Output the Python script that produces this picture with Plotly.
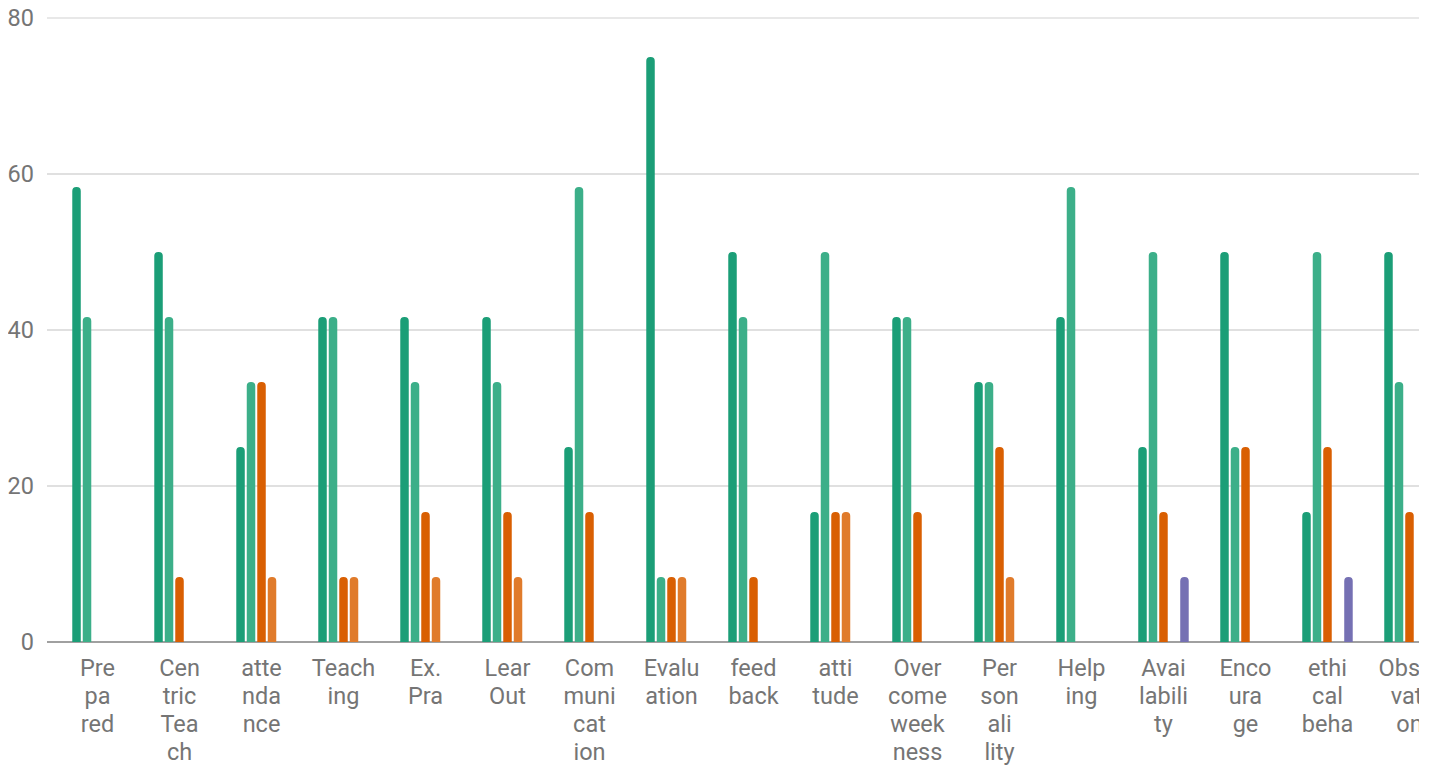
import plotly.graph_objects as go

categories = ["Prepared", "Centric Teach", "attendance", "Teaching", "Ex. Pra", "Lear Out",
              "Communication", "Evaluation", "feedback", "attitude", "Overcome weekness",
              "Personality", "Helping", "Availability", "Encourage", "ethical beha", "Observation"]
tick_lines = [["Pre", "pa", "red"], ["Cen", "tric", "Tea", "ch"], ["atte", "nda", "nce"], ["Teach", "ing"],
              ["Ex.", "Pra"], ["Lear", "Out"], ["Com", "muni", "cat", "ion"], ["Evalu", "ation"],
              ["feed", "back"], ["atti", "tude"], ["Over", "come", "week", "ness"], ["Per", "son", "ali", "lity"],
              ["Help", "ing"], ["Avai", "labili", "ty"], ["Enco", "ura", "ge"], ["ethi", "cal", "beha"],
              ["Obser", "vati", "on"]]
y_ticks = [0, 20, 40, 60, 80]

series_1 = [58.33, 50, 25, 41.67, 41.67, 41.67, 25, 75, 50, 16.67, 41.67, 33.33, 41.67, 25, 50, 16.67, 50]
series_2 = [41.67, 41.67, 33.33, 41.67, 33.33, 33.33, 58.33, 8.33, 41.67, 50, 41.67, 33.33, 58.33, 50, 25, 50, 33.33]
series_3 = [0, 8.33, 33.33, 8.33, 16.67, 16.67, 16.67, 8.33, 8.33, 16.67, 16.67, 25, 0, 16.67, 25, 25, 16.67]
series_4 = [0, 0, 8.33, 8.33, 8.33, 8.33, 0, 8.33, 0, 16.67, 0, 8.33, 0, 0, 0, 0, 0]
series_5 = [0, 0, 0, 0, 0, 0, 0, 0, 0, 0, 0, 0, 0, 8.33, 0, 8.33, 0]

series_names = ["Series 1", "Series 2", "Series 3", "Series 4", "Series 5"]
series_values = [series_1, series_2, series_3, series_4, series_5]
colors = ["#1b9e77", "#3caf89", "#d95f02", "#e07b2b", "#7570b3"]

# larger glyphs inside each line, while line spacing follows the (smaller) base font size
tick_text = ["<br>".join('<span style="font-size:23.5px">%s</span>' % s for s in lines) for lines in tick_lines]

fig = go.Figure()
for name, vals, col in zip(series_names, series_values, colors):
    fig.add_trace(go.Bar(
        x=categories, y=vals, name=name,
        marker=dict(color=col, line=dict(width=0)),
        hoverinfo="x+y+name",
    ))

font_color = "#757575"
grid_color = "#e0e0e0"
fig.update_layout(
    width=1433, height=764,
    margin=dict(l=39, r=22, t=10, b=130, pad=0),
    paper_bgcolor="white", plot_bgcolor="white",
    barmode="group", bargap=0.36, bargroupgap=0.19, barcornerradius=4,
    showlegend=False,
    font=dict(family="Roboto", size=21.6, color=font_color),
    xaxis=dict(
        type="category", automargin=False,
        tickmode="array", tickvals=categories, ticktext=tick_text,
        range=[-0.616, 16.116],
        showgrid=False, showline=False, zeroline=False, ticks="",
        tickfont=dict(family="Roboto", size=21.6, color=font_color),
        ticklabelstandoff=11, ticklabeloverflow="allow",
    ),
    yaxis=dict(
        range=[0, 80], tickvals=y_ticks, automargin=False,
        showgrid=True, gridcolor=grid_color, gridwidth=1.5,
        zeroline=True, zerolinecolor="#a0a0a0", zerolinewidth=2,
        showline=False, ticks="",
        tickfont=dict(family="Roboto", size=23.5, color=font_color),
        ticklabelstandoff=12, ticklabeloverflow="allow",
    ),
    shapes=[
        # top gridline (at the upper end of the value range)
        dict(type="line", xref="paper", yref="paper", x0=0, x1=1, y0=1, y1=1,
             line=dict(color=grid_color, width=1.5), layer="below"),
        # clip the last category label at the plot's right edge
        dict(type="rect", xref="paper", yref="paper", x0=1.0, x1=1.1, y0=-0.5, y1=-0.006,
             fillcolor="white", line=dict(width=0), layer="above"),
    ],
)

fig.write_html("out.html")
